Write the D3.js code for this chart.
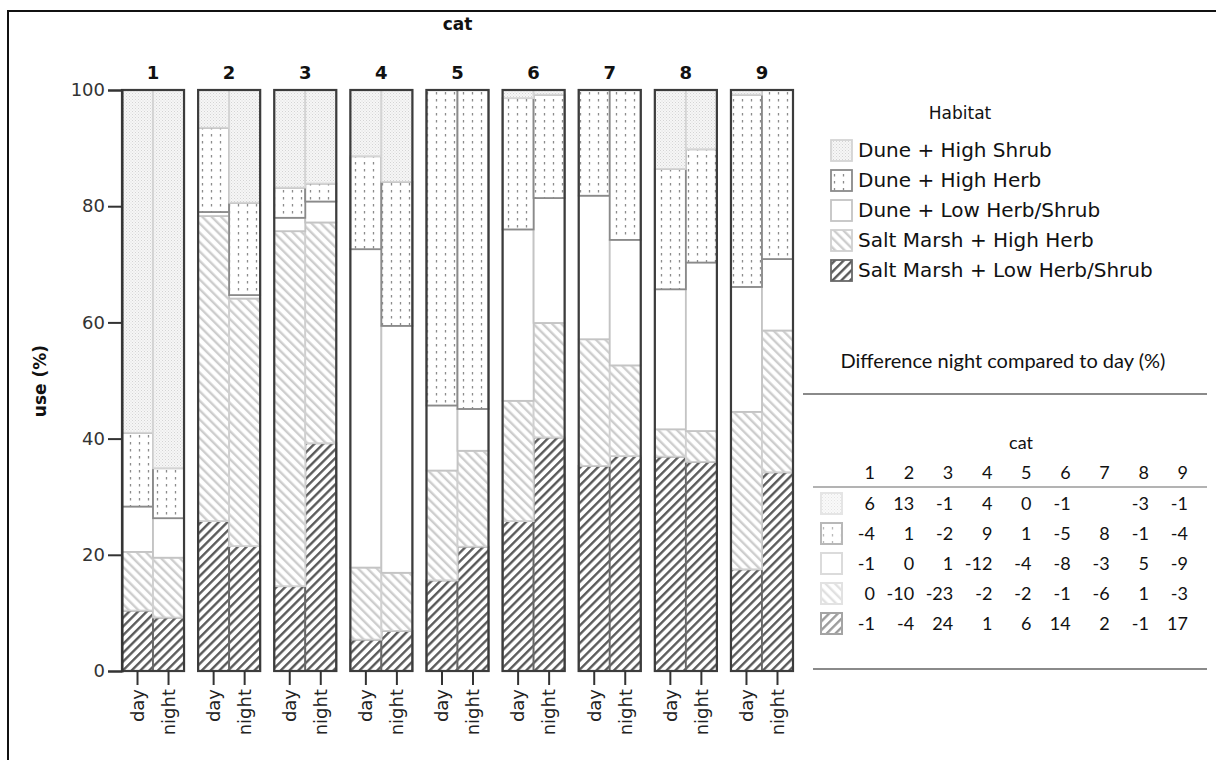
<!DOCTYPE html>
<html><head><meta charset="utf-8">
<script src="https://cdn.jsdelivr.net/npm/d3@7"></script>
<style>body{margin:0;background:#fff} svg{display:block}</style>
</head><body>
<svg id="chart" width="1216" height="760"></svg>
<script>
// Categories and periods
const cats = ["1","2","3","4","5","6","7","8","9"];
const periods = ["day","night"];
const yTicks = [0,20,40,60,80,100];

// Habitat use (%) per category, one array per habitat and period
const saltLowDay     = [10.4,25.8,14.6, 5.4,15.6,25.8,35.3,36.9,17.5];
const saltLowNight   = [ 9.2,21.5,39.2, 6.9,21.4,40.2,37.0,36.0,34.2];
const saltHighDay    = [10.1,52.5,61.1,12.4,18.9,20.7,21.8, 4.7,27.1];
const saltHighNight  = [10.3,42.6,38.0,10.0,16.5,19.7,15.6, 5.3,24.4];
const duneLowDay     = [ 7.8, 0.7, 2.3,54.8,11.2,29.5,24.7,24.1,21.5];
const duneLowNight   = [ 6.8, 0.6, 3.6,42.5, 7.2,21.5,21.6,29.0,12.3];
const duneHerbDay    = [12.7,14.5, 5.2,16.0,54.3,22.6,18.2,20.7,33.1];
const duneHerbNight  = [ 8.6,15.9, 3.1,24.8,54.9,17.8,25.8,19.5,29.1];
const duneShrubDay   = [59.0, 6.5,16.8,11.4, 0.0, 1.4, 0.0,13.6, 0.8];
const duneShrubNight = [65.1,19.4,16.1,15.8, 0.0, 0.8, 0.0,10.2, 0.0];

// Difference night compared to day (%), rows in legend order
const diffDuneShrub = [6,13,-1,4,0,-1,null,-3,-1];
const diffDuneHerb  = [-4,1,-2,9,1,-5,8,-1,-4];
const diffDuneLow   = [-1,0,1,-12,-4,-8,-3,5,-9];
const diffSaltHigh  = [0,-10,-23,-2,-2,-1,-6,1,-3];
const diffSaltLow   = [-1,-4,24,1,6,14,2,-1,17];

// Habitat keys, bottom of the stack first
const habitats = [
  {key:"saltLow",   name:"Salt Marsh + Low Herb/Shrub", fill:"url(#pSaltLow)",   stroke:"#686868"},
  {key:"saltHigh",  name:"Salt Marsh + High Herb",      fill:"url(#pSaltHigh)",  stroke:"#d0d0d0"},
  {key:"duneLow",   name:"Dune + Low Herb/Shrub",       fill:"#ffffff",          stroke:"#c4c4c4"},
  {key:"duneHerb",  name:"Dune + High Herb",            fill:"url(#pDuneHerb)",  stroke:"#8a8a8a"},
  {key:"duneShrub", name:"Dune + High Shrub",           fill:"url(#pDuneShrub)", stroke:"#d4d4d4"}
];
const series = {
  saltLow:  {day:saltLowDay,  night:saltLowNight},
  saltHigh: {day:saltHighDay, night:saltHighNight},
  duneLow:  {day:duneLowDay,  night:duneLowNight},
  duneHerb: {day:duneHerbDay, night:duneHerbNight},
  duneShrub:{day:duneShrubDay,night:duneShrubNight}
};
const diffRows = [
  {key:"duneShrub", values:diffDuneShrub},
  {key:"duneHerb",  values:diffDuneHerb},
  {key:"duneLow",   values:diffDuneLow},
  {key:"saltHigh",  values:diffSaltHigh},
  {key:"saltLow",   values:diffSaltLow}
];

const svg = d3.select("#chart");
const FONT = "'DejaVu Sans', sans-serif";

// ---- fill patterns ----
const defs = svg.append("defs");
const stip = defs.append("pattern").attr("id","pDuneShrub").attr("patternUnits","userSpaceOnUse")
  .attr("width",3).attr("height",3);
stip.append("rect").attr("width",3).attr("height",3).attr("fill","#f6f6f6");
stip.append("rect").attr("x",0).attr("y",0).attr("width",1).attr("height",1).attr("fill","#d4d4d4");
stip.append("rect").attr("x",1.5).attr("y",1.5).attr("width",1).attr("height",1).attr("fill","#dcdcdc");

const herb = defs.append("pattern").attr("id","pDuneHerb").attr("patternUnits","userSpaceOnUse")
  .attr("width",9).attr("height",7);
herb.append("rect").attr("width",9).attr("height",7).attr("fill","#fff");
herb.append("line").attr("x1",4.5).attr("x2",4.5).attr("y1",1).attr("y2",3.5)
  .attr("stroke","#8c8c8c").attr("stroke-width",1.3);

const sh = defs.append("pattern").attr("id","pSaltHigh").attr("patternUnits","userSpaceOnUse")
  .attr("width",6.6).attr("height",10).attr("patternTransform","rotate(-45)");
sh.append("rect").attr("width",6.6).attr("height",10).attr("fill","#fff");
sh.append("line").attr("x1",3).attr("x2",3).attr("y1",0).attr("y2",10)
  .attr("stroke","#cdcdcd").attr("stroke-width",2.4);

const sl = defs.append("pattern").attr("id","pSaltLow").attr("patternUnits","userSpaceOnUse")
  .attr("width",6.2).attr("height",10).attr("patternTransform","rotate(45)");
sl.append("rect").attr("width",6.2).attr("height",10).attr("fill","#fff");
sl.append("line").attr("x1",3).attr("x2",3).attr("y1",0).attr("y2",10)
  .attr("stroke","#555").attr("stroke-width",2.3);

// ---- frame ----
svg.append("line").attr("x1",8).attr("x2",1216).attr("y1",11).attr("y2",11)
  .attr("stroke","#111").attr("stroke-width",2);
svg.append("line").attr("x1",8).attr("x2",8).attr("y1",10).attr("y2",760)
  .attr("stroke","#111").attr("stroke-width",2);

// ---- scales ----
const y = d3.scaleLinear().domain([0,100]).range([671,90]);
const xPanel = d3.scaleBand().domain(cats).range([122,793]).paddingInner(0.185).paddingOuter(0);
const xBar = d3.scaleBand().domain(periods).range([0, xPanel.bandwidth()]).padding(0);

// ---- stacked data ----
const rows = [];
cats.forEach((c,i) => periods.forEach(p => {
  const r = {cat:c, period:p};
  habitats.forEach(h => r[h.key] = series[h.key][p][i]);
  rows.push(r);
}));
const stacked = d3.stack().keys(habitats.map(h => h.key))(rows);

// ---- panels ----
const plot = svg.append("g");
stacked.forEach((layer, li) => {
  const h = habitats[li];
  plot.append("g").selectAll("rect")
    .data(layer.filter(d => d[1] - d[0] > 0))
    .join("rect")
    .attr("x", d => xPanel(d.data.cat) + xBar(d.data.period))
    .attr("width", xBar.bandwidth())
    .attr("y", d => y(d[1]))
    .attr("height", d => y(d[0]) - y(d[1]))
    .attr("fill", h.fill)
    .attr("stroke", h.stroke)
    .attr("stroke-width", 1.8);
});
// panel frames
plot.append("g").selectAll("rect").data(cats).join("rect")
  .attr("x", c => xPanel(c)).attr("width", xPanel.bandwidth())
  .attr("y", y(100)).attr("height", y(0) - y(100))
  .attr("fill","none").attr("stroke","#3c3c3c").attr("stroke-width",2.2);

// panel headers
svg.append("g").selectAll("text").data(cats).join("text")
  .attr("x", c => xPanel(c) + xPanel.bandwidth()/2).attr("y", 72)
  .attr("text-anchor","middle").attr("dominant-baseline","central")
  .attr("font-family",FONT).attr("font-weight","bold").attr("font-size",18)
  .attr("fill","#111").text(c => c);
svg.append("text").attr("x", (xPanel.range()[0] + xPanel.range()[1])/2).attr("y", 24)
  .attr("text-anchor","middle").attr("dominant-baseline","central")
  .attr("font-family",FONT).attr("font-weight","bold").attr("font-size",17)
  .attr("fill","#111").text("cat");

// ---- y axis ----
const yAxis = svg.append("g").attr("transform", `translate(${xPanel("1")},0)`)
  .call(d3.axisLeft(y).tickValues(yTicks).tickSize(14).tickPadding(3));
yAxis.select(".domain").attr("stroke","#333").attr("stroke-width",2);
yAxis.selectAll(".tick line").attr("stroke","#333").attr("stroke-width",2);
yAxis.selectAll(".tick text").attr("font-family",FONT).attr("font-size",18).attr("fill","#333");
svg.append("text").attr("transform","translate(40,381) rotate(-90)")
  .attr("text-anchor","middle").attr("dominant-baseline","central")
  .attr("font-family",FONT).attr("font-weight","bold").attr("font-size",17)
  .attr("fill","#111").text("use (%)");

// ---- x axes (day / night per panel) ----
cats.forEach(c => {
  const g = svg.append("g").attr("transform", `translate(${xPanel(c)},${y(0)})`)
    .call(d3.axisBottom(xBar).tickSize(14).tickSizeOuter(0).tickPadding(4));
  g.select(".domain").remove();
  g.selectAll(".tick line").attr("stroke","#333").attr("stroke-width",2);
  g.selectAll(".tick text")
    .attr("font-family",FONT).attr("font-size",18).attr("fill","#222")
    .attr("transform","rotate(-90)")
    .attr("text-anchor","end").attr("dy","0.35em")
    .attr("x",-18).attr("y",0);
});

// ---- legend ----
const legendOrder = habitats.slice().reverse();
const lg = svg.append("g");
lg.append("text").attr("x",960).attr("y",113).attr("text-anchor","middle")
  .attr("dominant-baseline","central").attr("font-family",FONT).attr("font-size",17)
  .attr("fill","#111").text("Habitat");
const li = lg.selectAll("g.item").data(legendOrder).join("g").attr("class","item")
  .attr("transform",(d,i) => `translate(830,${150 + i*30})`);
li.append("rect").attr("x",1).attr("y",-10).attr("width",21).attr("height",21)
  .attr("fill", d => d.fill).attr("stroke", d => d.stroke).attr("stroke-width",1.8);
li.append("text").attr("x",28).attr("y",0).attr("dominant-baseline","central")
  .attr("font-family",FONT).attr("font-size",20).attr("fill","#111").text(d => d.name);

// ---- difference table ----
const TFONT = "Lato, 'Open Sans', sans-serif";
const tb = svg.append("g");
tb.append("text").attr("x",1003).attr("y",360).attr("text-anchor","middle")
  .attr("dominant-baseline","central").attr("font-family",TFONT).attr("font-size",20)
  .attr("fill","#111").text("Difference night compared to day (%)");
tb.append("line").attr("x1",803).attr("x2",1207).attr("y1",394).attr("y2",394)
  .attr("stroke","#8a8a8a").attr("stroke-width",2);
const colX = d3.scalePoint().domain(cats).range([875,1188]);
tb.append("text").attr("x",1021).attr("y",442).attr("text-anchor","middle")
  .attr("dominant-baseline","central").attr("font-family",TFONT).attr("font-size",18)
  .attr("fill","#111").text("cat");
tb.selectAll("text.hd").data(cats).join("text").attr("class","hd")
  .attr("x", c => colX(c)).attr("y",472).attr("text-anchor","end")
  .attr("dominant-baseline","central").attr("font-family",TFONT).attr("font-size",18)
  .attr("fill","#111").text(c => c);
tb.append("line").attr("x1",813).attr("x2",1207).attr("y1",487).attr("y2",487)
  .attr("stroke","#9a9a9a").attr("stroke-width",1.5);
const hByKey = Object.fromEntries(habitats.map(h => [h.key,h]));
const tr = tb.selectAll("g.row").data(diffRows).join("g").attr("class","row")
  .attr("transform",(d,i) => `translate(0,${503 + i*30})`);
tr.append("rect").attr("x",821).attr("y",-10).attr("width",21).attr("height",21)
  .attr("fill", d => hByKey[d.key].fill).attr("stroke", d => hByKey[d.key].stroke)
  .attr("stroke-width",2).attr("opacity",0.6);
tr.each(function(r){
  d3.select(this).selectAll("text").data(r.values.map((v,i) => ({v, c:cats[i]})))
    .join("text").attr("x", d => colX(d.c)).attr("y",0).attr("text-anchor","end")
    .attr("dominant-baseline","central").attr("font-family",TFONT).attr("font-size",18)
    .attr("fill","#111").text(d => d.v === null ? "" : d.v);
});
tb.append("line").attr("x1",813).attr("x2",1207).attr("y1",669).attr("y2",669)
  .attr("stroke","#8a8a8a").attr("stroke-width",2);
</script>
</body></html>
